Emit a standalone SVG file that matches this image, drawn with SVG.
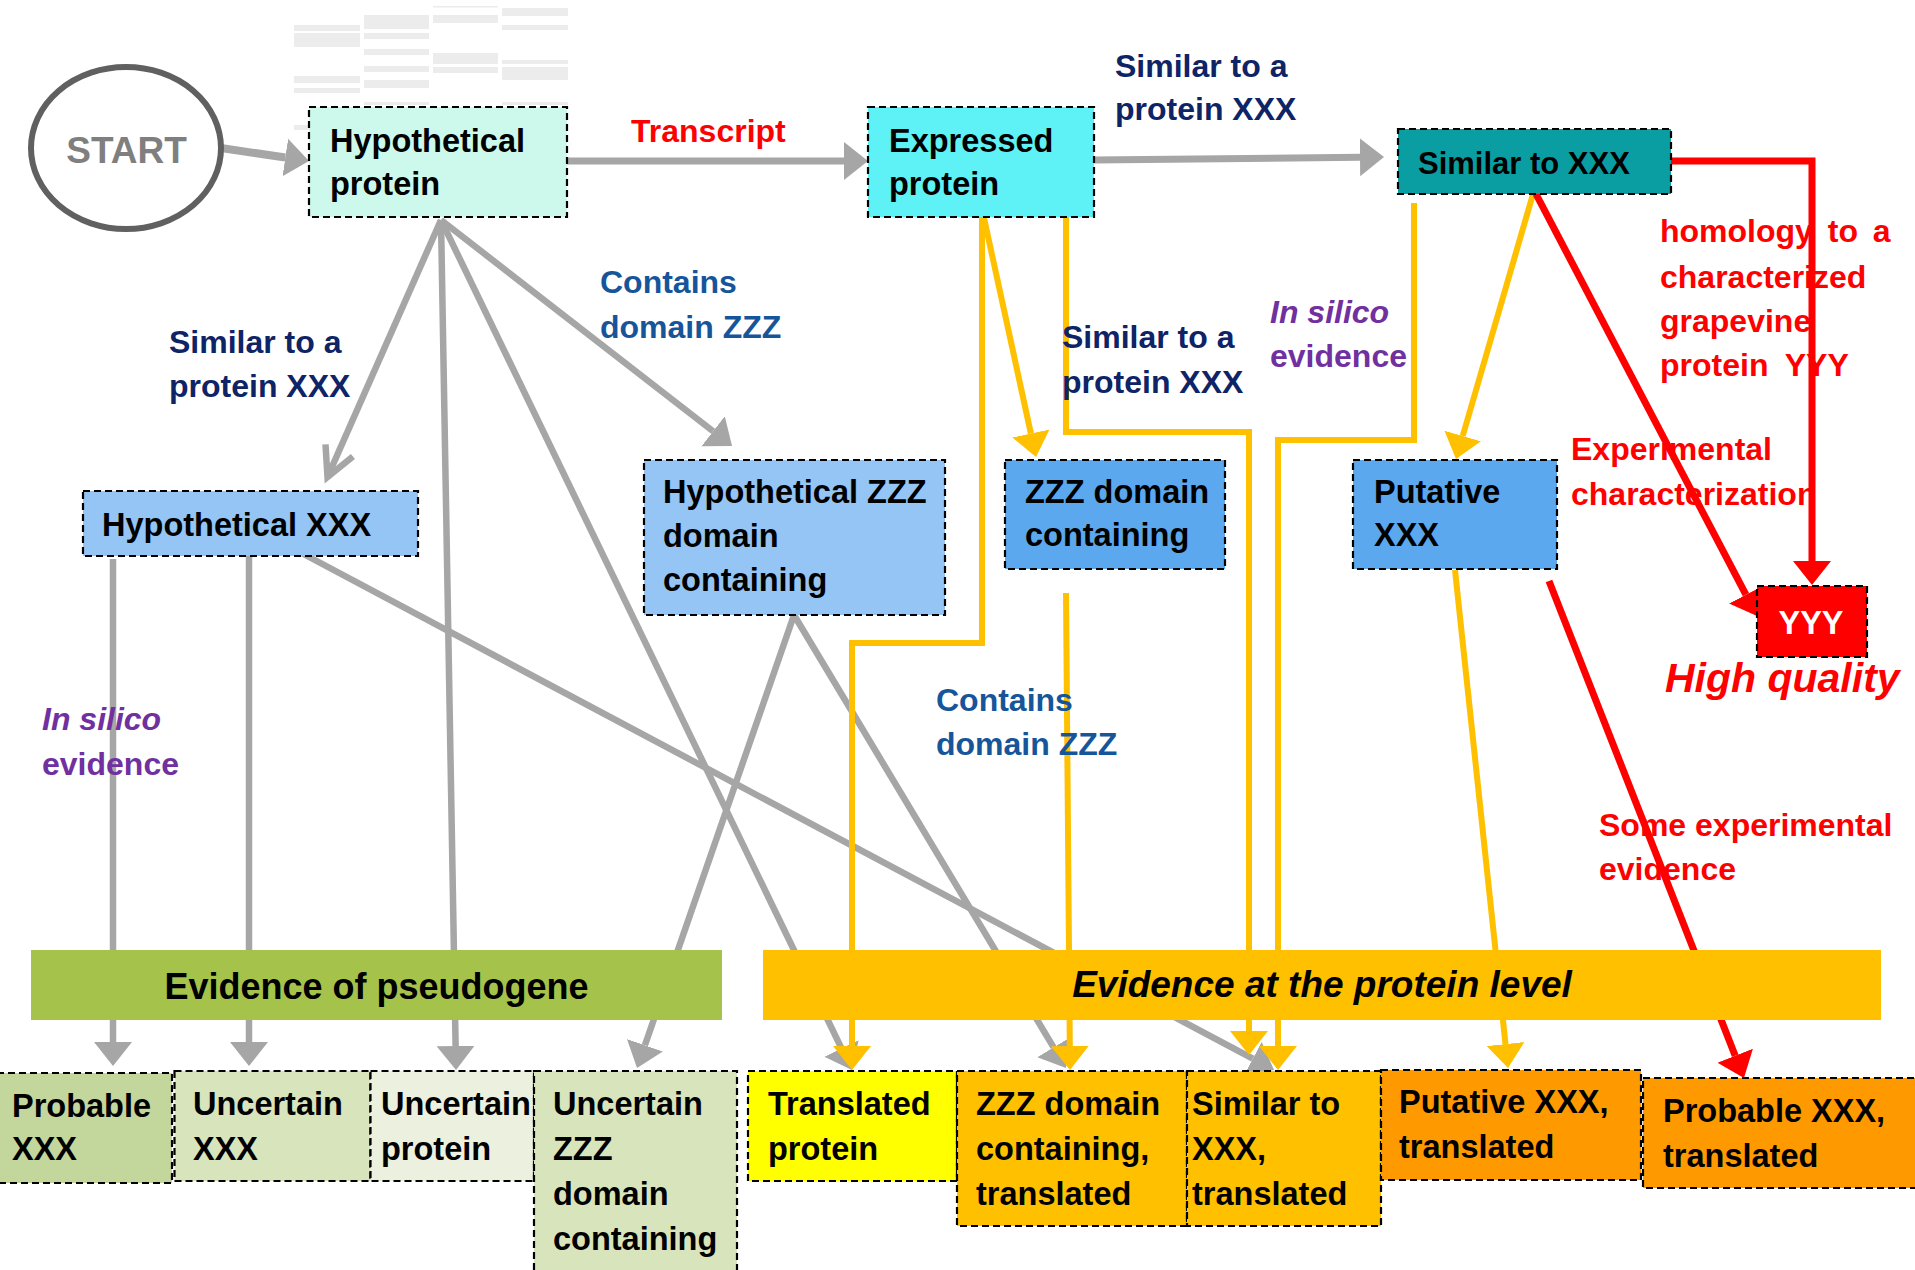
<svg xmlns="http://www.w3.org/2000/svg" width="1915" height="1270" viewBox="0 0 1915 1270">
<style>
.box{stroke:#000;stroke-width:2.2;stroke-dasharray:7 4}
.t{font-family:"Liberation Sans",Arial,sans-serif;font-weight:bold;font-size:32.5px;fill:#000}
.lb{font-family:"Liberation Sans",Arial,sans-serif;font-weight:bold;font-size:32px}
.it{font-style:italic}
.navy{fill:#0e2466}
.blue{fill:#17559a}
.purple{fill:#7030a0}
.red{fill:#ff0000}
.g{fill:none;stroke:#a6a6a6;stroke-width:6.5}
.y{fill:none;stroke:#ffc000;stroke-width:6;stroke-linejoin:miter}
.r{fill:none;stroke:#ff0000;stroke-width:7;stroke-linejoin:miter}
.band{fill:#ececec}
</style>
<defs>
<marker id="ahG" markerUnits="userSpaceOnUse" markerWidth="26" markerHeight="40" viewBox="0 -20 26 40" refX="0" refY="0" orient="auto"><path d="M0,-19 L24,0 L0,19 z" fill="#a6a6a6"/></marker>
<marker id="ahY" markerUnits="userSpaceOnUse" markerWidth="26" markerHeight="40" viewBox="0 -20 26 40" refX="0" refY="0" orient="auto"><path d="M0,-19 L24,0 L0,19 z" fill="#ffc000"/></marker>
<marker id="ahR" markerUnits="userSpaceOnUse" markerWidth="26" markerHeight="40" viewBox="0 -20 26 40" refX="0" refY="0" orient="auto"><path d="M0,-19 L24,0 L0,19 z" fill="#ff0000"/></marker>
<marker id="chG" markerUnits="userSpaceOnUse" markerWidth="40" markerHeight="40" viewBox="-36 -20 40 40" refX="0" refY="0" orient="auto" style="overflow:visible"><path d="M-29,-15 L0,0 L-29,15" fill="none" stroke="#a6a6a6" stroke-width="6.5"/></marker>
</defs>
<rect width="1915" height="1270" fill="#fff"/>

<g id="gel-bands">
<rect class="band" x="294" y="25" width="66" height="6"/>
<rect class="band" x="294" y="33" width="66" height="14"/>
<rect class="band" x="294" y="76" width="66" height="7"/>
<rect class="band" x="294" y="88" width="66" height="5"/>
<rect class="band" x="294" y="125" width="15" height="5"/>
<rect class="band" x="364" y="15" width="65" height="14"/>
<rect class="band" x="364" y="33" width="65" height="6"/>
<rect class="band" x="364" y="49" width="65" height="6"/>
<rect class="band" x="364" y="66" width="65" height="6"/>
<rect class="band" x="364" y="80" width="65" height="8"/>
<rect class="band" x="364" y="102" width="65" height="3"/>
<rect class="band" x="433" y="6" width="65" height="1.5"/>
<rect class="band" x="433" y="15" width="65" height="8"/>
<rect class="band" x="433" y="53" width="65" height="11"/>
<rect class="band" x="433" y="67" width="65" height="6"/>
<rect class="band" x="502" y="8" width="66" height="8"/>
<rect class="band" x="502" y="25" width="66" height="5"/>
<rect class="band" x="502" y="60" width="66" height="4"/>
<rect class="band" x="502" y="67" width="66" height="13"/>
<rect class="band" x="502" y="102" width="66" height="3"/>
</g>

<g id="red-labels">
<text class="lb red" x="631" y="142">Transcript</text>
<text class="lb red" x="1660" y="242" word-spacing="6">homology to a</text>
<text class="lb red" x="1660" y="288">characterized</text>
<text class="lb red" x="1660" y="332">grapevine</text>
<text class="lb red" x="1660" y="376" word-spacing="8">protein YYY</text>
<text class="lb red" x="1571" y="460">Experimental</text>
<text class="lb red" x="1571" y="505">characterization</text>
<text class="lb red" x="1599" y="836">Some experimental</text>
<text class="lb red" x="1599" y="880">evidence</text>
</g>

<g id="connectors">
<path class="g" style="stroke-width:8" d="M221,148 L285.3,157.5" marker-end="url(#ahG)"/>
<path class="g" style="stroke-width:7" d="M567,161 L844,161" marker-end="url(#ahG)"/>
<path class="g" style="stroke-width:7" d="M1094,160 L1360,157.3" marker-end="url(#ahG)"/>
<path class="g" d="M441,220 L327.5,477" marker-end="url(#chG)"/>
<path class="g" d="M441,220 L455.6,1046" marker-end="url(#ahG)"/>
<path class="g" d="M441,220 L841.5,1048.4" marker-end="url(#ahG)"/>
<path class="g" d="M441,220 L713.1,431.3" marker-end="url(#ahG)"/>
<path class="g" d="M113,559 L113,1042" marker-end="url(#ahG)"/>
<path class="g" d="M249,551 L249,1042" marker-end="url(#ahG)"/>
<path class="g" d="M296,550 L1252.8,1058.7" marker-end="url(#ahG)"/>
<path class="g" d="M794,615 L644.9,1045.3" marker-end="url(#ahG)"/>
<path class="g" d="M794,615 L1053.6,1047.4" marker-end="url(#ahG)"/>

<path class="y" d="M982,217 V643 H852 V1046" marker-end="url(#ahY)"/>
<path class="y" d="M984,218 L1030.9,433.5" marker-end="url(#ahY)"/>
<path class="y" d="M1066,217 V432 H1249 V1031" marker-end="url(#ahY)"/>
<path class="y" d="M1414,203 V440 H1278 V1046" marker-end="url(#ahY)"/>
<path class="y" d="M1533,194 L1462.7,436" marker-end="url(#ahY)"/>
<path class="y" d="M1066,593 L1069.8,1046" marker-end="url(#ahY)"/>
<path class="y" d="M1455,570 L1505.5,1044.1" marker-end="url(#ahY)"/>

<path class="r" d="M1671,161 H1812 V561" marker-end="url(#ahR)"/>
<path class="r" d="M1536,194 L1745.9,594.7" marker-end="url(#ahR)"/>
<path class="r" d="M1549,581 L1735.2,1055.7" marker-end="url(#ahR)"/>
</g>

<g id="labels">
<text class="lb navy" x="1115" y="77">Similar to a</text>
<text class="lb navy" x="1115" y="120">protein XXX</text>
<text class="lb blue" x="600" y="293">Contains</text>
<text class="lb blue" x="600" y="338">domain ZZZ</text>
<text class="lb navy" x="169" y="353">Similar to a</text>
<text class="lb navy" x="169" y="397">protein XXX</text>
<text class="lb navy" x="1062" y="348">Similar to a</text>
<text class="lb navy" x="1062" y="393">protein XXX</text>
<text class="lb purple it" x="1270" y="323">In silico</text>
<text class="lb purple" x="1270" y="367">evidence</text>
<text class="lb purple it" x="42" y="730">In silico</text>
<text class="lb purple" x="42" y="775">evidence</text>
<text class="lb blue" x="936" y="711">Contains</text>
<text class="lb blue" x="936" y="755">domain ZZZ</text>
<text class="lb red it" x="1665" y="692" style="font-size:41px">High quality</text>
</g>

<g id="start">
<ellipse cx="126" cy="148" rx="95" ry="81" fill="#fff" stroke="#606060" stroke-width="6"/>
<text class="t" x="126.5" y="163" text-anchor="middle" style="font-size:37px;fill:#7f7f7f">START</text>
</g>

<g id="hypothetical-protein">
<rect class="box" x="309" y="107" width="258" height="110" fill="#ccf9ec"/>
<text class="t" x="330" y="152">Hypothetical</text>
<text class="t" x="330" y="195">protein</text>
</g>

<g id="expressed-protein">
<rect class="box" x="868" y="107" width="226" height="110" fill="#5ef1f6"/>
<text class="t" x="889" y="152">Expressed</text>
<text class="t" x="889" y="195">protein</text>
</g>

<g id="similar-to-xxx">
<rect class="box" x="1398" y="129" width="273" height="65" fill="#0a9ea3"/>
<text class="t" x="1418" y="174" style="font-size:31px">Similar to XXX</text>
</g>

<g id="hypothetical-xxx">
<rect class="box" x="83" y="491" width="335" height="65" fill="#94c5f4"/>
<text class="t" x="102" y="536">Hypothetical XXX</text>
</g>

<g id="hypothetical-zzz">
<rect class="box" x="644" y="460" width="301" height="155" fill="#94c5f4"/>
<text class="t" x="663" y="503">Hypothetical ZZZ</text>
<text class="t" x="663" y="547">domain</text>
<text class="t" x="663" y="591">containing</text>
</g>

<g id="zzz-domain-containing">
<rect class="box" x="1005" y="460" width="220" height="109" fill="#5ba8ee"/>
<text class="t" x="1025" y="503">ZZZ domain</text>
<text class="t" x="1025" y="546">containing</text>
</g>

<g id="putative-xxx">
<rect class="box" x="1353" y="460" width="204" height="109" fill="#5ba8ee"/>
<text class="t" x="1374" y="503">Putative</text>
<text class="t" x="1374" y="546">XXX</text>
</g>

<g id="yyy">
<rect class="box" x="1757" y="586" width="110" height="71" fill="#ff0000"/>
<text class="t" x="1811" y="634" text-anchor="middle" style="fill:#fff">YYY</text>
</g>

<g id="evidence-pseudogene">
<rect x="31" y="950" width="691" height="70" fill="#a5c34a"/>
<text class="t" x="376.5" y="999" text-anchor="middle" style="font-size:36px">Evidence of pseudogene</text>
</g>

<g id="evidence-protein-level">
<rect x="763" y="950" width="1118" height="70" fill="#ffc000"/>
<text class="t it" x="1322" y="997" text-anchor="middle" style="font-size:37px">Evidence at the protein level</text>
</g>

<g id="probable-xxx">
<rect class="box" x="-3" y="1073" width="175" height="110" fill="#c3d69b"/>
<text class="t" x="12" y="1117">Probable</text>
<text class="t" x="12" y="1160">XXX</text>
</g>

<g id="uncertain-xxx">
<rect class="box" x="174.5" y="1071" width="196" height="110" fill="#d8e4bc"/>
<text class="t" x="193" y="1115">Uncertain</text>
<text class="t" x="193" y="1160">XXX</text>
</g>

<g id="uncertain-protein">
<rect class="box" x="370.5" y="1071" width="163.5" height="110" fill="#ebf1de"/>
<text class="t" x="381" y="1115">Uncertain</text>
<text class="t" x="381" y="1160">protein</text>
</g>

<g id="uncertain-zzz">
<rect class="box" x="534" y="1071" width="203" height="210" fill="#d8e4bc"/>
<text class="t" x="553" y="1115">Uncertain</text>
<text class="t" x="553" y="1160">ZZZ</text>
<text class="t" x="553" y="1205">domain</text>
<text class="t" x="553" y="1250">containing</text>
</g>

<g id="translated-protein">
<rect class="box" x="748" y="1071" width="209" height="110" fill="#ffff00"/>
<text class="t" x="768" y="1115">Translated</text>
<text class="t" x="768" y="1160">protein</text>
</g>

<g id="zzz-translated">
<rect class="box" x="957" y="1071" width="230" height="155" fill="#ffc000"/>
<text class="t" x="976" y="1115">ZZZ domain</text>
<text class="t" x="976" y="1160">containing,</text>
<text class="t" x="976" y="1205">translated</text>
</g>

<g id="similar-translated">
<rect class="box" x="1187" y="1071" width="194" height="155" fill="#ffc000"/>
<text class="t" x="1192" y="1115">Similar to</text>
<text class="t" x="1192" y="1160">XXX,</text>
<text class="t" x="1192" y="1205">translated</text>
</g>

<g id="putative-translated">
<rect class="box" x="1381" y="1070" width="260" height="110" fill="#ff9900"/>
<text class="t" x="1399" y="1113">Putative XXX,</text>
<text class="t" x="1399" y="1158">translated</text>
</g>

<g id="probable-translated">
<rect class="box" x="1643" y="1078" width="280" height="110" fill="#ff9900"/>
<text class="t" x="1663" y="1122">Probable XXX,</text>
<text class="t" x="1663" y="1167">translated</text>
</g>
</svg>
